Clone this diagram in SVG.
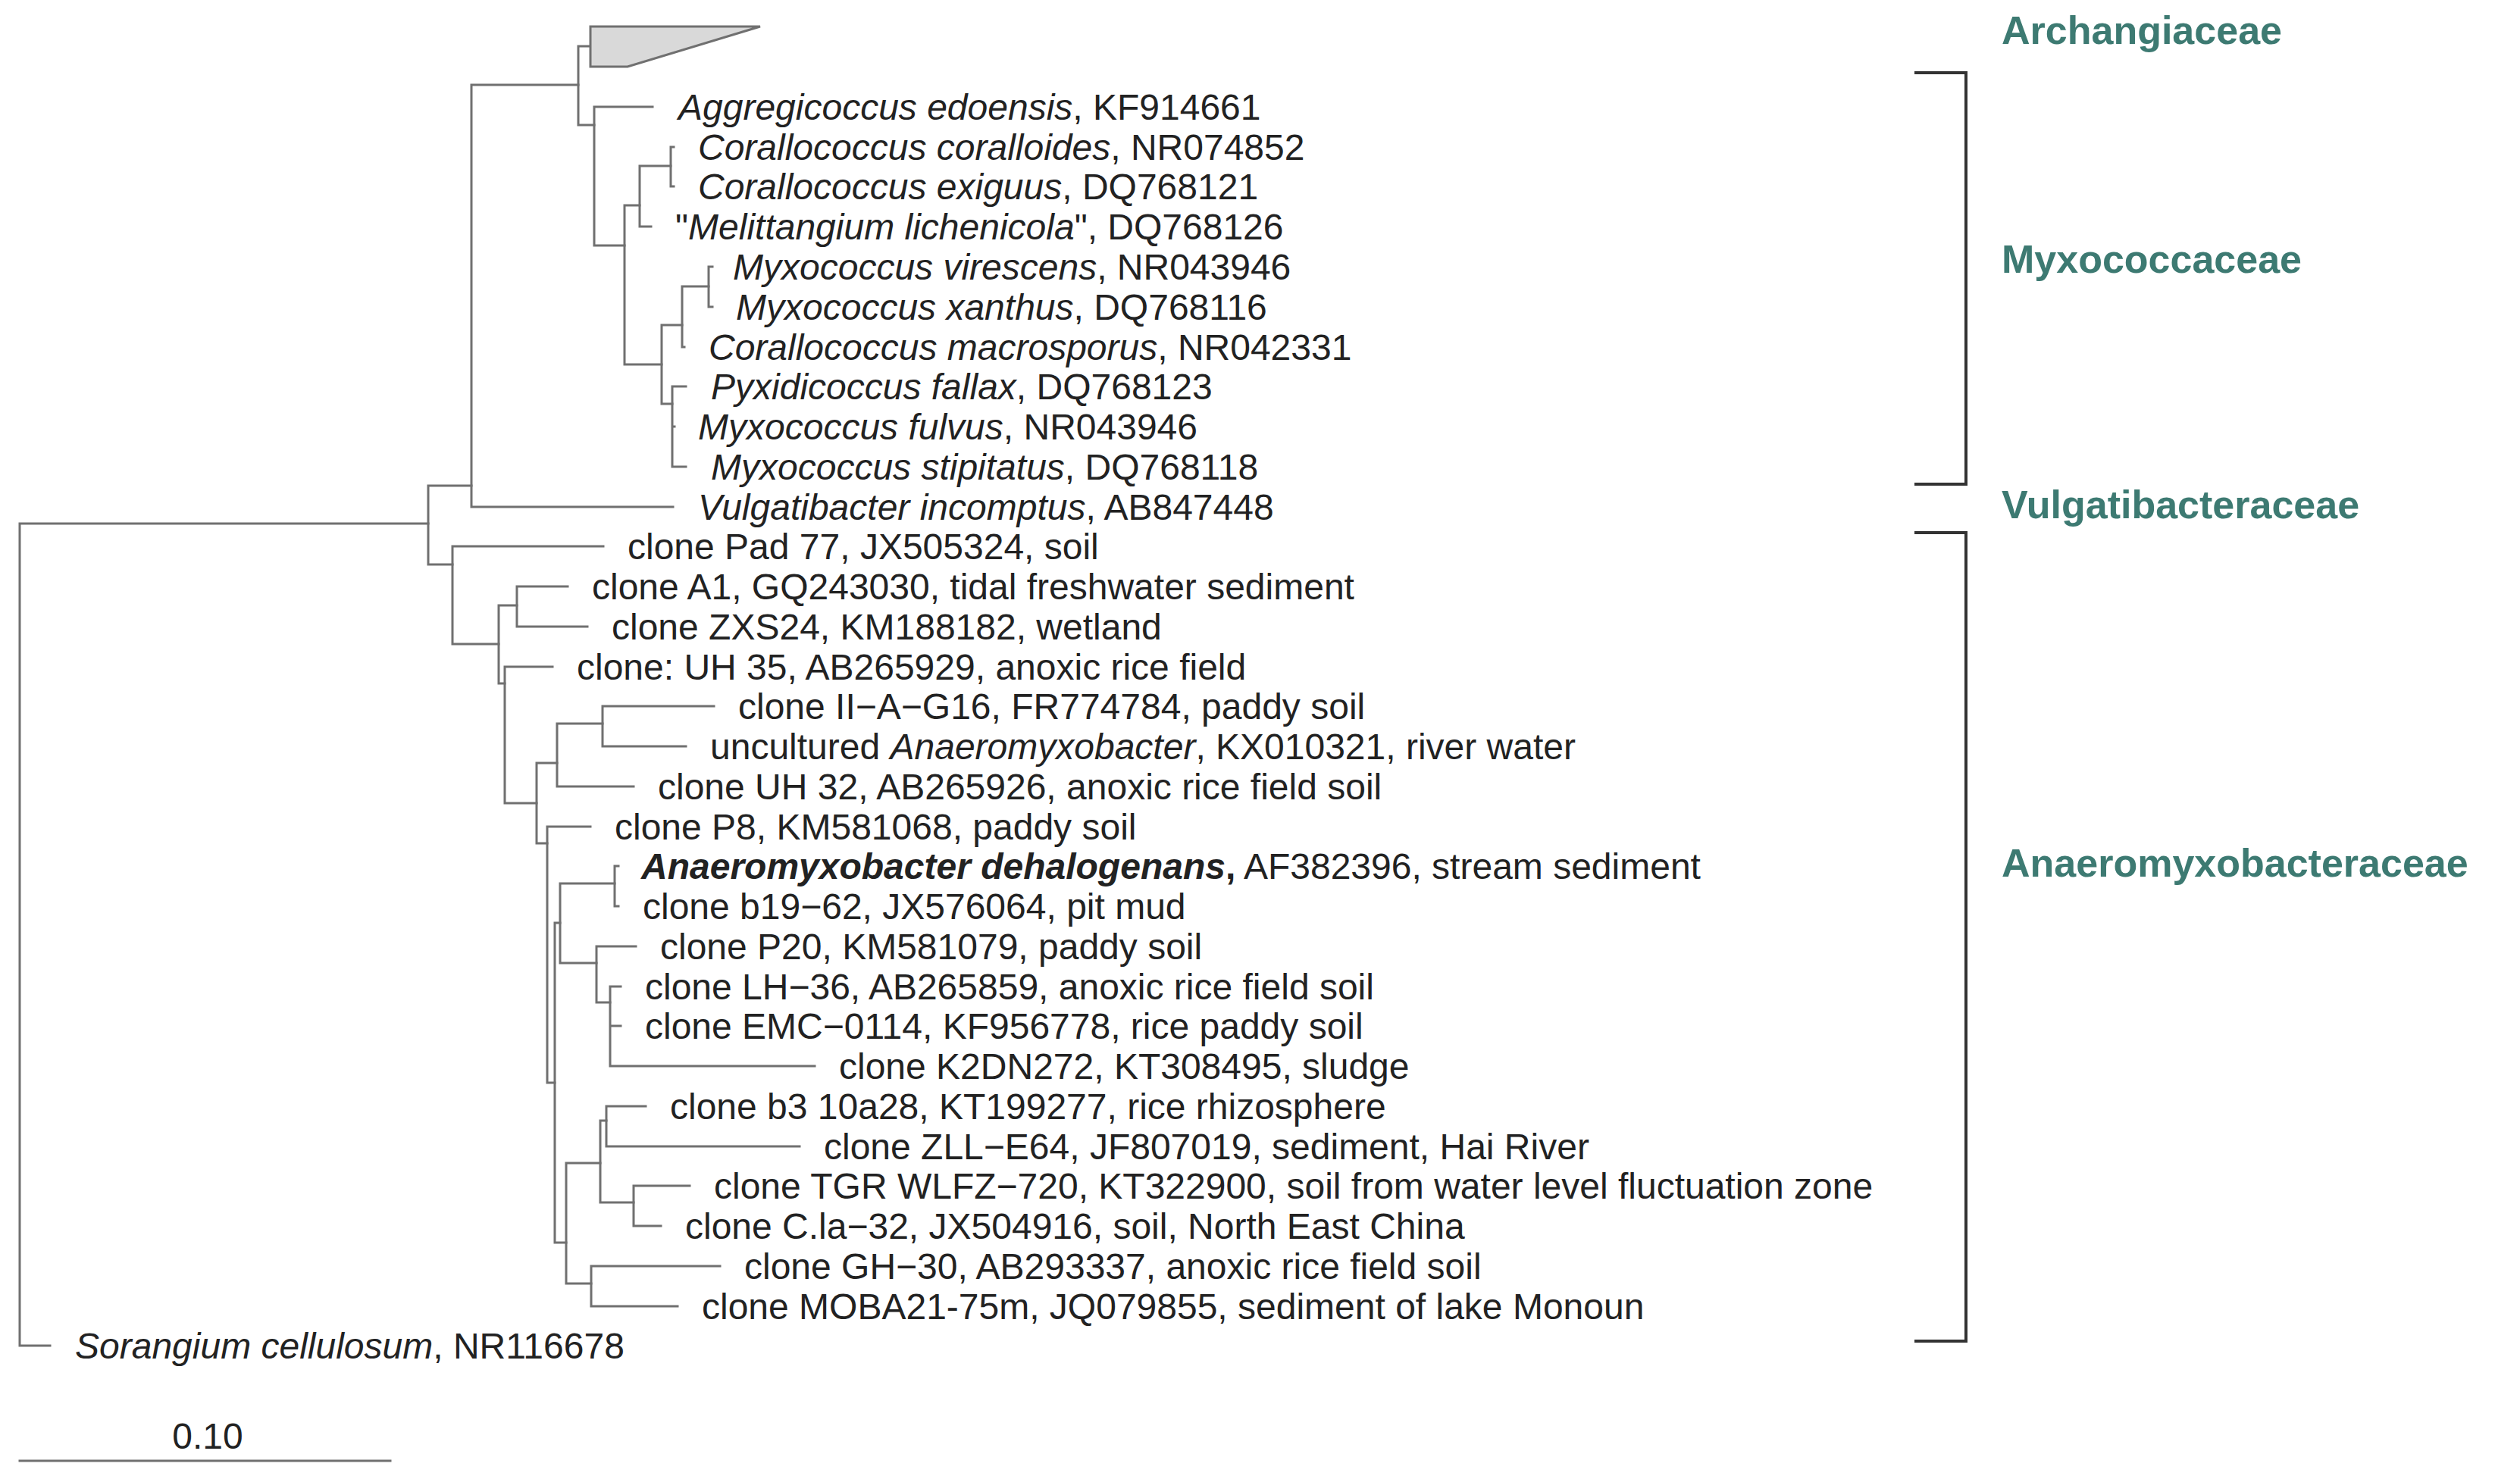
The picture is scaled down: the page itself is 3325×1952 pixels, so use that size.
<svg xmlns="http://www.w3.org/2000/svg" width="3325" height="1952" viewBox="0 0 3325 1952">
<style>
.t{font-family:"Liberation Sans",Arial,sans-serif;font-size:48px;fill:#222}
.i{font-style:italic}
.f{font-family:"Liberation Sans",Arial,sans-serif;font-size:52px;font-weight:bold;fill:#3d7a72}
.e{stroke:#707070;stroke-width:3;fill:none;stroke-linecap:square}
.b{stroke:#333;stroke-width:4;fill:none}
</style>
<rect width="3325" height="1952" fill="#fff"/>
<g id="connectors" class="e">
<path d="M26,691H565M26,691V1776M26,1776H66"/>
<path d="M565,641V745M565,641H622M565,745H597"/>
<path d="M622,112V669M622,112H763M622,669H888"/>
<path d="M763,61V165M763,61H779M763,165H784"/>
<path d="M784,141V324M784,141H861M784,324H824"/>
<path d="M824,271V481M824,271H844M824,481H873"/>
<path d="M844,219V299M844,219H885M844,299H859"/>
<path d="M885,194V246M885,194H889M885,246H889"/>
<path d="M873,429V533M873,429H900M873,533H887"/>
<path d="M900,378V458M900,378H935M900,458H903"/>
<path d="M935,352V405M935,352H940M935,405H940"/>
<path d="M887,510V616M887,510H905M887,563H890M887,616H905"/>
<path d="M597,721V850M597,721H796M597,850H658"/>
<path d="M658,799V902M658,799H682M658,902H666"/>
<path d="M682,774V827M682,774H749M682,827H775"/>
<path d="M666,880V1060M666,880H729M666,1060H708"/>
<path d="M708,1007V1113M708,1007H735M708,1113H722"/>
<path d="M735,955V1038M735,955H795M735,1038H836"/>
<path d="M795,932V985M795,932H942M795,985H905"/>
<path d="M722,1091V1429M722,1091H779M722,1429H732"/>
<path d="M732,1218V1640M732,1218H739M732,1640H747"/>
<path d="M739,1166V1271M739,1166H811M739,1271H787"/>
<path d="M811,1143V1196M811,1143H816M811,1196H816"/>
<path d="M787,1249V1323M787,1249H839M787,1323H805"/>
<path d="M805,1302V1407M805,1302H819M805,1354H819M805,1407H1075"/>
<path d="M747,1535V1694M747,1535H792M747,1694H780"/>
<path d="M792,1479V1587M792,1479H800M792,1587H836"/>
<path d="M800,1460V1513M800,1460H852M800,1513H1055"/>
<path d="M836,1565V1618M836,1565H910M836,1618H872"/>
<path d="M780,1671V1724M780,1671H950M780,1724H894"/>
<path d="M26,1928H515"/>
</g>
<g id="archangiaceae-clade"><polygon points="779,35 1003,35 828,88 779,88" fill="#d9d9d9" stroke="#707070" stroke-width="3"/></g>
<g id="labels">
<g id="n0"><text class="t" x="895" y="158"><tspan class="i">Aggregicoccus edoensis</tspan>, KF914661</text></g>
<g id="n1"><text class="t" x="921" y="211"><tspan class="i">Corallococcus coralloides</tspan>, NR074852</text></g>
<g id="n2"><text class="t" x="921" y="263"><tspan class="i">Corallococcus exiguus</tspan>, DQ768121</text></g>
<g id="n3"><text class="t" x="891" y="316">"<tspan class="i">Melittangium lichenicola</tspan>", DQ768126</text></g>
<g id="n4"><text class="t" x="967" y="369"><tspan class="i">Myxococcus virescens</tspan>, NR043946</text></g>
<g id="n5"><text class="t" x="971" y="422"><tspan class="i">Myxococcus xanthus</tspan>, DQ768116</text></g>
<g id="n6"><text class="t" x="935" y="475"><tspan class="i">Corallococcus macrosporus</tspan>, NR042331</text></g>
<g id="n7"><text class="t" x="938" y="527"><tspan class="i">Pyxidicoccus fallax</tspan>, DQ768123</text></g>
<g id="n8"><text class="t" x="921" y="580"><tspan class="i">Myxococcus fulvus</tspan>, NR043946</text></g>
<g id="n9"><text class="t" x="938" y="633"><tspan class="i">Myxococcus stipitatus</tspan>, DQ768118</text></g>
<g id="n10"><text class="t" x="921" y="686"><tspan class="i">Vulgatibacter incomptus</tspan>, AB847448</text></g>
<g id="n11"><text class="t" x="828" y="738">clone Pad 77, JX505324, soil</text></g>
<g id="n12"><text class="t" x="781" y="791">clone A1, GQ243030, tidal freshwater sediment</text></g>
<g id="n13"><text class="t" x="807" y="844">clone ZXS24, KM188182, wetland</text></g>
<g id="n14"><text class="t" x="761" y="897">clone: UH 35, AB265929, anoxic rice field</text></g>
<g id="n15"><text class="t" x="974" y="949">clone II−A−G16, FR774784, paddy soil</text></g>
<g id="n16"><text class="t" x="937" y="1002">uncultured <tspan class="i">Anaeromyxobacter</tspan>, KX010321, river water</text></g>
<g id="n17"><text class="t" x="868" y="1055">clone UH 32, AB265926, anoxic rice field soil</text></g>
<g id="n18"><text class="t" x="811" y="1108">clone P8, KM581068, paddy soil</text></g>
<g id="n19"><text class="t" x="846" y="1160"><tspan font-weight="bold" font-style="italic">Anaeromyxobacter dehalogenans</tspan><tspan font-weight="bold">,</tspan> AF382396, stream sediment</text></g>
<g id="n20"><text class="t" x="848" y="1213">clone b19−62, JX576064, pit mud</text></g>
<g id="n21"><text class="t" x="871" y="1266">clone P20, KM581079, paddy soil</text></g>
<g id="n22"><text class="t" x="851" y="1319">clone LH−36, AB265859, anoxic rice field soil</text></g>
<g id="n23"><text class="t" x="851" y="1371">clone EMC−0114, KF956778, rice paddy soil</text></g>
<g id="n24"><text class="t" x="1107" y="1424">clone K2DN272, KT308495, sludge</text></g>
<g id="n25"><text class="t" x="884" y="1477">clone b3 10a28, KT199277, rice rhizosphere</text></g>
<g id="n26"><text class="t" x="1087" y="1530">clone ZLL−E64, JF807019, sediment, Hai River</text></g>
<g id="n27"><text class="t" x="942" y="1582">clone TGR WLFZ−720, KT322900, soil from water level fluctuation zone</text></g>
<g id="n28"><text class="t" x="904" y="1635">clone C.la−32, JX504916, soil, North East China</text></g>
<g id="n29"><text class="t" x="982" y="1688">clone GH−30, AB293337, anoxic rice field soil</text></g>
<g id="n30"><text class="t" x="926" y="1741">clone MOBA21-75m, JQ079855, sediment of lake Monoun</text></g>
<g id="n31"><text class="t" x="99" y="1793"><tspan class="i">Sorangium cellulosum</tspan>, NR116678</text></g>
</g>
<g id="scale"><text class="t" x="274" y="1912" text-anchor="middle">0.10</text></g>
<g id="brackets" class="b">
<path d="M2526,96H2594V639H2526"/>
<path d="M2526,703H2594V1770H2526"/>
</g>
<g id="families">
<text class="f" x="2641" y="58">Archangiaceae</text>
<text class="f" x="2641" y="360">Myxococcaceae</text>
<text class="f" x="2641" y="684">Vulgatibacteraceae</text>
<text class="f" x="2641" y="1157">Anaeromyxobacteraceae</text>
</g>
</svg>
